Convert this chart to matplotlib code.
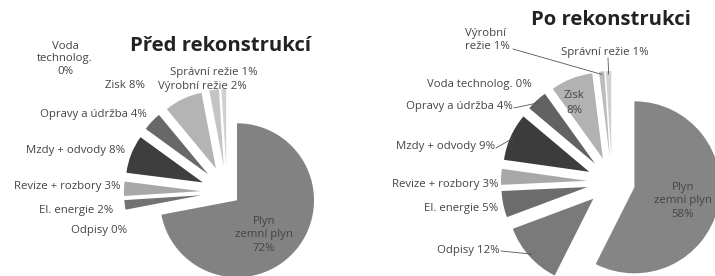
import numpy as np
import matplotlib.pyplot as plt

W, H = 715, 276

# data, counter-clockwise from the top
cats_before = ["Voda technolog.", "Správní režie", "Výrobní režie", "Zisk", "Opravy a údržba",
               "Mzdy + odvody", "Revize + rozbory", "El. energie", "Odpisy", "Plyn"]
vals_before = [0, 1, 2, 8, 4, 8, 3, 2, 0, 72]

cats_after = ["Voda technolog.", "Správní režie", "Výrobní režie", "Zisk", "Opravy a údržba",
              "Mzdy + odvody", "Revize + rozbory", "El. energie", "Odpisy", "Plyn"]
vals_after = [0, 1, 1, 8, 4, 9, 3, 5, 12, 58]

grays_before = ["#d8d8d8", "#d0d0d0", "#c4c4c4", "#b4b4b4", "#686868",
                "#3e3e3e", "#a8a8a8", "#727272", "#808080", "#828282"]
grays_after = ["#d8d8d8", "#d0d0d0", "#bcbcbc", "#b2b2b2", "#626262",
               "#3c3c3c", "#a8a8a8", "#6c6c6c", "#7a7a7a", "#858585"]

FONT = "Open Sans"
TXT = "#444444"
FS = 8.2


def top(y):
    return H - y


def label_text(cat, v, sep=" "):
    return f"{cat}{sep}{v}%"


fig = plt.figure(figsize=(7.15, 2.76), dpi=100)
ax = fig.add_axes([0, 0, 1, 1])

# ---- před rekonstrukcí
expl_b = [26] * 9 + [13]
wb, _ = ax.pie(vals_before, colors=grays_before, explode=expl_b, radius=77,
               center=(227, top(192)), startangle=90, wedgeprops=dict(linewidth=0))

lab_b = {
    "Voda technolog.": (65, 59, "center", "Voda\ntechnolog.\n0%"),
    "Zisk": (125, 85, "center", None),
    "Správní režie": (214, 72, "center", None),
    "Výrobní režie": (202, 86, "center", None),
    "Opravy a údržba": (147, 115, "right", None),
    "Mzdy + odvody": (125, 151, "right", None),
    "Revize + rozbory": (120, 186, "right", None),
    "El. energie": (113, 211, "right", None),
    "Odpisy": (127, 230, "right", None),
}
for cat, v in zip(cats_before, vals_before):
    if cat not in lab_b:
        continue
    x, y, ha, s = lab_b[cat]
    ax.text(x, top(y), s or label_text(cat, v), ha=ha, va="center", fontsize=FS,
            color=TXT, family=FONT, linespacing=1.2)
ax.text(264, top(235), f"Plyn\nzemní plyn\n{vals_before[-1]}%", ha="center", va="center",
        fontsize=FS, color=TXT, family=FONT, linespacing=1.3)
ax.text(220, top(46), "Před rekonstrukcí", ha="center", va="center", fontsize=14.6,
        fontweight="bold", color="#222222", family=FONT)

# ---- po rekonstrukci
expl_a = [25] * 9 + [23]
wa, _ = ax.pie(vals_after, colors=grays_after, explode=expl_a, radius=86,
               center=(612, top(182)), startangle=90, wedgeprops=dict(linewidth=0))


def edge_point(w, frac=0.5, extra=0):
    t = np.deg2rad(w.theta1 + frac * (w.theta2 - w.theta1))
    cx, cy = w.center
    return cx + (w.r + extra) * np.cos(t), cy + (w.r + extra) * np.sin(t)


lab_a = {
    "Výrobní režie": (465, 40, "left", "Výrobní\nrežie 1%", (513, 49)),
    "Správní režie": (605, 52, "center", None, (608, 58)),
    "Voda technolog.": (532, 85, "right", None, None),
    "Opravy a údržba": (513, 107, "right", None, (514, 108)),
    "Mzdy + odvody": (495, 147, "right", None, (496, 148)),
    "Revize + rozbory": (498, 184, "right", None, None),
    "El. energie": (498, 208, "right", None, None),
    "Odpisy": (500, 250, "right", None, (501, 251)),
}
for w, cat, v in zip(wa, cats_after, vals_after):
    if cat not in lab_a:
        continue
    x, y, ha, s, lead = lab_a[cat]
    ax.text(x, top(y), s or label_text(cat, v), ha=ha, va="center", fontsize=FS,
            color=TXT, family=FONT, linespacing=1.3)
    if lead is not None:
        px, py = edge_point(w, 0.5, -3)
        ax.plot([lead[0], px], [top(lead[1]), py], color="#555555", lw=0.6)

ax.text(574, top(103), f"Zisk\n{vals_after[3]}%", ha="center", va="center", fontsize=FS,
        color=TXT, family=FONT, linespacing=1.5)
ax.text(683, top(201), f"Plyn\nzemní plyn\n{vals_after[-1]}%", ha="center", va="center",
        fontsize=FS, color=TXT, family=FONT, linespacing=1.3)
ax.text(611, top(20), "Po rekonstrukci", ha="center", va="center", fontsize=14.6,
        fontweight="bold", color="#222222", family=FONT)

ax.set_xlim(0, W)
ax.set_ylim(0, H)
ax.axis("off")

fig.savefig("out.png", dpi=100)
